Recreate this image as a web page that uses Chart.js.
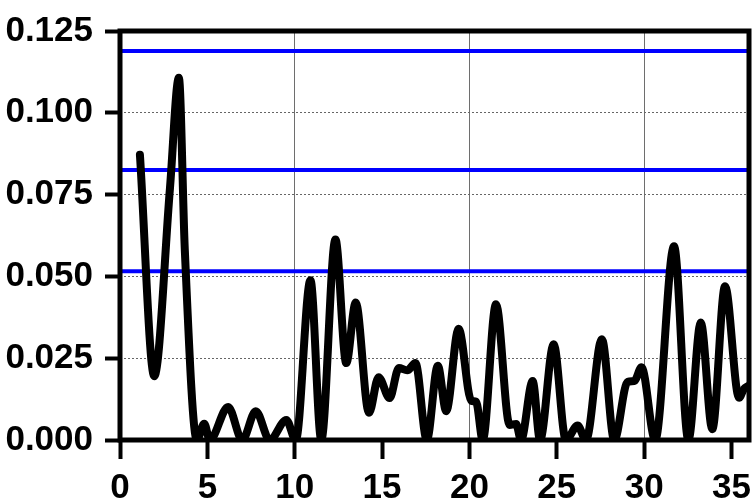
<!DOCTYPE html>
<html>
<head>
<meta charset="utf-8">
<script src="https://cdn.jsdelivr.net/npm/chart.js@4.4.1/dist/chart.umd.min.js"></script>
<style>
  html, body { margin: 0; padding: 0; background: #fff; }
  canvas { display: block; }
</style>
</head>
<body>
<canvas id="chart" width="755" height="502"></canvas>
<script>
// frequency (x) and power (y)
const freq = [1.14, 1.96, 2.86, 3.37, 3.71, 4.4, 4.82, 5.14, 6.19, 7.0, 7.77, 8.57, 9.52, 10.06,
  10.9, 11.52, 12.33, 12.95, 13.49, 14.25, 14.8, 15.43, 15.96, 16.44, 16.91, 17.56, 18.19, 18.67,
  19.38, 20.1, 20.38, 20.76, 21.52, 22.3, 22.67, 22.95, 23.62, 24.04, 24.82, 25.52, 26.19, 26.67,
  27.58, 28.29, 29.05, 29.43, 29.85, 30.63, 31.71, 32.53, 33.24, 33.9, 34.63, 35.43, 35.71, 35.95];
const power = [0.0872, 0.0195, 0.077, 0.1107, 0.058, 0.0, 0.005, 0.0, 0.0101, 0.0, 0.0088, 0.0, 0.0061, 0.0,
  0.0488, 0.0, 0.0613, 0.0235, 0.042, 0.0083, 0.0192, 0.0128, 0.022, 0.0213, 0.0235, 0.0, 0.0227, 0.0088,
  0.034, 0.012, 0.0117, 0.0, 0.0415, 0.0046, 0.0049, 0.0, 0.018, 0.0, 0.0293, 0.0, 0.0044, 0.0,
  0.0308, 0.0, 0.0178, 0.018, 0.0222, 0.0, 0.0592, 0.0, 0.0359, 0.0033, 0.047, 0.0129, 0.0156, 0.0165];

// blue significance levels
const levels = [0.1189, 0.0825, 0.0516];

const xTicks = [0, 5, 10, 15, 20, 25, 30, 35];
const yTicks = [0, 0.025, 0.05, 0.075, 0.1, 0.125];
const xGridAt = [10, 20, 30];
const xMin = 0, xMax = 36;
const yMin = 0, yMax = 0.125;

const fontFamily = "'Liberation Sans', Arial, sans-serif";

const datasets = [{
  data: freq.map((f, i) => ({ x: f, y: power[i] })),
  borderColor: '#000',
  borderWidth: 8,
  borderCapStyle: 'round',
  borderJoinStyle: 'round',
  pointRadius: 0,
  cubicInterpolationMode: 'monotone',
  fill: false
}];
levels.forEach(lv => {
  datasets.push({
    data: [{ x: xMin, y: lv }, { x: xMax, y: lv }],
    borderColor: '#0000ff',
    borderWidth: 4,
    pointRadius: 0,
    fill: false
  });
});

const framePlugin = {
  id: 'frame',
  afterDatasetsDraw(chart) {
    const { ctx, chartArea: a } = chart;
    ctx.save();
    ctx.strokeStyle = '#000';
    ctx.lineWidth = 5;
    ctx.strokeRect(a.left, a.top, a.right - a.left, a.bottom - a.top);
    ctx.restore();
  }
};

new Chart(document.getElementById('chart'), {
  type: 'line',
  data: { datasets },
  plugins: [framePlugin],
  options: {
    responsive: false,
    animation: false,
    devicePixelRatio: 1,
    layout: { padding: { top: 31, right: 6, left: 0, bottom: 0 } },
    plugins: { legend: { display: false }, tooltip: { enabled: false } },
    scales: {
      x: {
        type: 'linear',
        min: xMin,
        max: xMax,
        afterBuildTicks: s => { s.ticks = xTicks.map(v => ({ value: v })); },
        afterFit: s => { s.height = 62; s.paddingLeft = 0; s.paddingRight = 0; },
        grid: {
          color: c => (c.tick && xGridAt.includes(c.tick.value)) ? '#6e6e6e' : 'rgba(0,0,0,0)',
          lineWidth: 1,
          tickColor: '#000',
          tickWidth: 4,
          tickLength: 19
        },
        border: { display: false },
        ticks: {
          color: '#000',
          font: { family: fontFamily, size: 35, weight: 'bold' },
          padding: 8,
          maxRotation: 0,
          autoSkip: false
        }
      },
      y: {
        min: yMin,
        max: yMax,
        afterBuildTicks: s => { s.ticks = yTicks.map(v => ({ value: v })); },
        afterFit: s => { s.width = 120; s.paddingTop = 0; s.paddingBottom = 0; },
        grid: {
          color: '#666',
          lineWidth: 1,
          tickColor: '#000',
          tickWidth: 4,
          tickLength: 15
        },
        border: { display: false, dash: [2, 2] },
        ticks: {
          color: '#000',
          font: { family: fontFamily, size: 35, weight: 'bold' },
          padding: 12,
          callback: v => v.toFixed(3)
        }
      }
    }
  }
});
</script>
</body>
</html>
